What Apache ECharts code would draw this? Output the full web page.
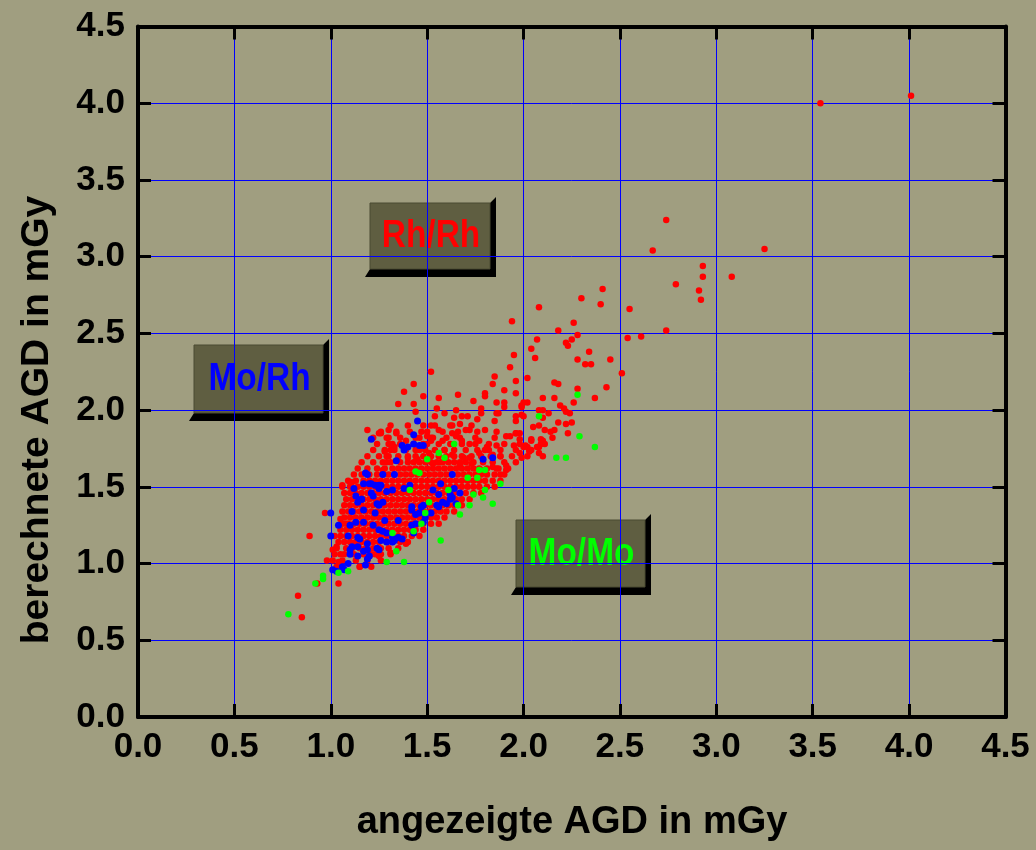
<!DOCTYPE html>
<html>
<head>
<meta charset="utf-8">
<script src="https://cdn.jsdelivr.net/npm/echarts@6/dist/echarts.min.js"></script>
<style>
html,body{margin:0;padding:0;background:#a09e80;}
#chart{width:1036px;height:850px;}
</style>
</head>
<body>
<div id="chart"></div>
<script>
const xTitle = 'angezeigte AGD in mGy';
const yTitle = 'berechnete AGD in mGy';
const tickValues = [0, 0.5, 1.0, 1.5, 2.0, 2.5, 3.0, 3.5, 4.0, 4.5];
const boxLabels = ['Mo/Rh', 'Rh/Rh', 'Mo/Mo'];

// dense red cluster, read row by row: [y, [x values]]
const redCoreRows = [
 [0.98, [1.04,1.15,1.21]],
 [1.02, [1.01,1.06,1.13,1.19,1.26]],
 [1.06, [1.02,1.07,1.12,1.17,1.21,1.26,1.31]],
 [1.10, [1.03,1.08,1.11,1.15,1.18,1.22,1.26,1.30,1.35]],
 [1.14, [1.04,1.07,1.10,1.13,1.16,1.19,1.22,1.25,1.29,1.32,1.36,1.40]],
 [1.18, [1.02,1.05,1.08,1.11,1.14,1.17,1.20,1.23,1.26,1.29,1.32,1.35,1.38,1.42,1.46]],
 [1.22, [1.05,1.08,1.11,1.14,1.17,1.20,1.23,1.26,1.29,1.32,1.35,1.38,1.41,1.44,1.48]],
 [1.26, [1.06,1.09,1.12,1.15,1.18,1.21,1.24,1.27,1.30,1.33,1.36,1.39,1.42,1.45,1.48,1.52,1.56]],
 [1.30, [1.07,1.10,1.13,1.16,1.19,1.22,1.25,1.28,1.31,1.34,1.37,1.40,1.43,1.46,1.49,1.52,1.55,1.59]],
 [1.34, [1.06,1.09,1.12,1.15,1.18,1.21,1.24,1.27,1.30,1.33,1.36,1.39,1.42,1.45,1.48,1.51,1.54,1.57,1.60,1.64]],
 [1.38, [1.07,1.10,1.13,1.16,1.19,1.22,1.25,1.28,1.31,1.34,1.37,1.40,1.43,1.46,1.49,1.52,1.55,1.58,1.61,1.64,1.68]],
 [1.42, [1.08,1.11,1.14,1.17,1.20,1.23,1.26,1.29,1.32,1.35,1.38,1.41,1.44,1.47,1.50,1.53,1.56,1.59,1.62,1.65,1.68,1.72]],
 [1.46, [1.07,1.10,1.13,1.16,1.19,1.22,1.25,1.28,1.31,1.34,1.37,1.40,1.43,1.46,1.49,1.52,1.55,1.58,1.61,1.64,1.67,1.70,1.74,1.78]],
 [1.50, [1.06,1.10,1.14,1.17,1.20,1.23,1.26,1.29,1.32,1.35,1.38,1.41,1.44,1.47,1.50,1.53,1.56,1.59,1.62,1.65,1.68,1.71,1.74,1.77,1.81,1.85]],
 [1.54, [1.09,1.13,1.17,1.20,1.23,1.26,1.29,1.32,1.35,1.38,1.41,1.44,1.47,1.50,1.53,1.56,1.59,1.62,1.65,1.68,1.71,1.74,1.77,1.80,1.84,1.88]],
 [1.58, [1.12,1.16,1.20,1.24,1.27,1.30,1.33,1.36,1.39,1.42,1.45,1.48,1.51,1.54,1.57,1.60,1.63,1.66,1.69,1.72,1.75,1.78,1.81,1.85,1.90]],
 [1.62, [1.14,1.19,1.24,1.28,1.32,1.35,1.38,1.41,1.44,1.47,1.50,1.53,1.56,1.59,1.62,1.65,1.68,1.71,1.74,1.77,1.81,1.86,1.92]],
 [1.66, [1.16,1.22,1.27,1.31,1.36,1.40,1.43,1.46,1.49,1.52,1.55,1.58,1.61,1.64,1.67,1.70,1.74,1.79,1.84,1.90,1.96]],
 [1.70, [1.19,1.25,1.30,1.35,1.40,1.44,1.48,1.52,1.56,1.60,1.64,1.68,1.73,1.78,1.83,1.88,1.94,2.02]],
 [1.74, [1.22,1.28,1.33,1.39,1.44,1.49,1.54,1.59,1.64,1.70,1.76,1.82,1.88,1.96,2.04]],
 [1.78, [1.24,1.30,1.36,1.43,1.50,1.56,1.62,1.68,1.75,1.82,1.90,1.98]],
 [1.82, [1.22,1.29,1.36,1.44,1.52,1.60,1.67,1.75,1.85]],
 [1.86, [1.26,1.34,1.41,1.50,1.58,1.66,1.76]],
 [1.90, [1.31,1.40,1.52,1.62,1.73]]
];

// scattered red points [x, y]
const redScatter = [
 [3.54,4.00],[4.01,4.05],[2.74,3.24],[2.67,3.04],[3.25,3.05],[2.93,2.94],[2.93,2.87],[3.08,2.87],[2.79,2.82],[2.91,2.78],
 [2.92,2.72],[2.41,2.79],[2.30,2.73],[2.08,2.67],[2.40,2.69],[2.55,2.66],[1.94,2.58],[2.26,2.57],[2.18,2.52],[2.74,2.52],
 [2.28,2.49],[2.54,2.47],[2.61,2.48],[2.07,2.46],[2.25,2.46],[2.22,2.44],[2.23,2.42],[2.04,2.40],[2.34,2.38],[1.95,2.36],
 [2.06,2.34],[2.28,2.33],[2.32,2.30],[2.35,2.30],[2.45,2.33],[1.93,2.28],[2.51,2.24],[2.02,2.21],[1.96,2.19],[2.16,2.18],
 [2.18,2.17],[2.43,2.15],[1.90,2.13],[2.28,2.14],[1.96,2.11],[2.10,2.08],[2.16,2.08],[2.37,2.08],[1.90,2.05],[2.00,2.05],
 [2.02,2.05],[2.26,2.05],[2.19,2.03],[2.21,2.01],[2.22,1.99],[2.24,1.98],[1.99,2.02],[2.08,2.00],[2.10,2.00],[2.13,1.98],
 [1.86,1.98],[1.96,1.93],[2.00,1.96],[2.10,1.95],[2.18,1.92],[2.22,1.91],[2.25,1.92],[2.05,1.89],[2.08,1.90],[2.11,1.87],
 [2.14,1.86],[2.16,1.87],[1.93,1.83],[1.96,1.85],[1.98,1.81],[2.04,1.81],[2.09,1.81],[2.15,1.82],[2.23,1.85],[2.00,1.76],
 [2.02,1.76],[2.09,1.78],
 [1.52,2.25],[1.85,2.22],[1.43,2.17],[1.84,2.17],[1.38,2.12],[1.66,2.10],[1.80,2.11],[1.80,2.09],[1.48,2.09],[1.56,2.08],
 [1.74,2.06],[1.86,2.05],[1.90,2.02],[1.35,2.04],[1.43,2.04],[1.44,1.99],[1.99,2.03],[1.55,2.01],[1.65,2.00],[1.78,2.01],
 [1.59,1.98],[1.71,1.96],[1.78,1.98],[1.87,1.98],[1.96,1.96],[1.99,1.97],[1.54,1.96],[1.64,1.95],[1.68,1.96],[1.85,1.93],
 [1.76,1.94],[1.54,1.90],[1.63,1.90],[1.67,1.91],[1.48,1.90],[1.30,1.87],[1.34,1.85],[1.26,1.85],[1.47,1.86],[1.56,1.87],
 [1.63,1.85],[1.70,1.87],[1.72,1.87],[1.80,1.87],[1.86,1.86],[1.96,1.85],[1.98,1.85],[1.50,1.83],[1.53,1.82],[1.65,1.83],
 [1.30,1.82],[1.39,1.80],[1.46,1.82],[1.48,1.78],[1.52,1.80],[1.58,1.80],[1.68,1.80],[1.72,1.78],[1.77,1.80],[1.81,1.76],
 [1.86,1.77],[1.91,1.83],[1.95,1.77],[2.04,1.80],[2.07,1.76],[2.10,1.80],[2.11,1.78],[2.01,1.77],[2.03,1.74],[1.32,1.78],
 [1.33,1.76],[1.31,1.74],[1.28,1.73],[1.29,1.70],[1.46,1.74],[1.51,1.72],[1.59,1.74],[1.63,1.71],[1.69,1.69],[1.72,1.69],
 [1.77,1.72],[1.80,1.74],[1.84,1.71],[1.88,1.70],[1.98,1.72],[1.99,1.69],[2.03,1.73],[2.08,1.76],[2.08,1.72],[2.10,1.70],
 [1.40,1.69],[1.34,1.67],[1.29,1.66],[1.45,1.68],[1.53,1.65],[1.57,1.66],[1.67,1.64],[1.73,1.65],[1.78,1.61],[1.84,1.63],
 [1.87,1.62],[1.91,1.61],[1.91,1.64],[1.88,1.58],[1.27,1.61],[1.19,1.87],[1.25,1.85],[1.11,1.53],
 [0.89,1.18],[0.97,1.33],[0.98,1.02],[1.04,0.87],[0.83,0.79],[0.85,0.65],[0.93,0.87],[1.06,1.51],[1.10,1.53],[1.05,1.29],
 [1.08,1.26],[1.03,1.11],[1.01,1.09],[1.05,1.06],[1.04,1.01],[1.15,0.98],[1.23,1.06],[1.25,1.05],[1.31,1.07],[1.39,1.13],
 [1.03,0.98],[1.11,1.13]
];

const bluePoints = [
 [1.45,1.93],[1.43,1.84],[1.21,1.81],[1.43,1.78],[1.46,1.77],[1.48,1.77],[1.37,1.77],[1.40,1.76],[1.38,1.74],[1.79,1.68],
 [1.84,1.69],[1.34,1.67],[1.27,1.58],[1.33,1.58],[1.63,1.58],[1.18,1.59],[1.57,1.52],[1.64,1.49],[1.62,1.45],[1.67,1.46],
 [1.53,1.48],[1.56,1.45],[1.58,1.40],[1.60,1.39],[1.62,1.42],[1.48,1.38],[1.55,1.38],[1.56,1.37],[1.42,1.37],[1.47,1.37],
 [1.41,1.51],[1.38,1.49],[1.32,1.48],[1.29,1.47],[1.26,1.51],[1.12,1.49],[1.20,1.52],[1.25,1.51],[1.16,1.42],[1.21,1.46],
 [1.14,1.40],[1.63,1.43],[1.65,1.39],[1.00,1.33],[1.11,1.34],[1.04,1.25],[1.00,1.18],[1.10,1.09],[1.10,1.06],[1.01,0.96],
 [1.03,0.95],[1.06,0.98],[1.07,0.96],[1.09,1.00],[1.14,1.05],[1.18,0.99],[1.19,1.03],[1.17,1.08],[1.19,1.09],[1.20,1.05],
 [1.14,1.17],[1.15,1.16],[1.10,1.25],[1.13,1.27],[1.17,1.27],[1.17,1.35],[1.19,1.58],[1.17,1.52],[1.21,1.52],[1.22,1.44],
 [1.24,1.39],[1.25,1.38],[1.23,1.33],[1.22,1.25],[1.25,1.22],[1.27,1.21],[1.29,1.20],[1.26,1.15],[1.24,1.10],[1.25,1.09],
 [1.29,1.14],[1.32,1.17],[1.33,1.15],[1.35,1.17],[1.37,1.16],[1.32,1.14],[1.25,1.49],[1.23,1.51],[1.27,1.40],[1.28,1.28],
 [1.35,1.28],[1.42,1.35],[1.44,1.32],[1.43,1.20],[1.42,1.25],[1.44,1.26],[1.46,1.33],[1.48,1.27],[1.49,1.30],[1.52,1.33],
 [1.09,1.18],[1.11,1.11],[1.14,1.11],[1.19,1.13],[1.13,1.44],[1.16,1.42]
];

const greenPoints = [
 [2.28,2.10],[2.08,1.96],[2.29,1.83],[2.37,1.76],[2.17,1.69],[2.22,1.69],[1.64,1.78],[1.56,1.72],[1.59,1.69],[1.50,1.68],
 [1.77,1.61],[1.80,1.61],[1.44,1.60],[1.46,1.59],[1.71,1.56],[1.76,1.56],[1.88,1.52],[1.80,1.48],[1.61,1.48],[1.74,1.45],
 [1.79,1.43],[1.84,1.39],[1.72,1.38],[1.51,1.40],[1.66,1.38],[1.41,1.48],[0.78,0.67],[0.92,0.87],[0.96,0.90],[0.96,0.92],
 [1.09,0.95],[1.04,0.94],[1.29,1.01],[1.38,1.01],[1.34,1.08],[1.32,1.20],[1.57,1.15],[1.67,1.32],[1.49,1.33],[1.43,1.21],
 [1.47,1.26]
];

const redPoints = redCoreRows.flatMap(r => r[1].map(x => [x, r[0]])).concat(redScatter);

const FONT = '"Liberation Sans", Arial, sans-serif';
const chart = echarts.init(document.getElementById('chart'), null, {renderer: 'canvas'});

const axisBase = {
  type: 'value', min: 0, max: 4.5, interval: 0.5,
  axisLine: {show: true, onZero: false, lineStyle: {color: '#000', width: 4}},
  axisTick: {show: true, inside: true, length: 13, lineStyle: {color: '#000', width: 3}}
};

function label(el) {
  // 3D-looking label box: shadow polygon + face + text
  const [x0, y0, x1, y1, txt, color] = el;
  return {
    type: 'group', z: 100, children: [
      {type: 'polygon', shape: {points: [[x1, y0], [x1 + 6, y0 - 6], [x1 + 6, y1 + 8], [x0 - 5, y1 + 8], [x0, y1]]}, style: {fill: '#000'}},
      {type: 'rect', shape: {x: x0, y: y0, width: x1 - x0, height: y1 - y0}, style: {fill: '#5f5e41', stroke: '#4a4a32', lineWidth: 1}},
      {type: 'text', x: (x0 + x1) / 2 + 1, y: (y0 + y1) / 2 + 1, scaleX: 0.88,
        style: {text: txt, fill: color, font: 'bold 38px ' + FONT, align: 'center', verticalAlign: 'middle'}}
    ]
  };
}

chart.setOption({
  backgroundColor: '#a09e80',
  animation: false,
  grid: {left: 138, right: 30.5, top: 26.6, bottom: 133, containLabel: false},
  xAxis: [
    Object.assign({}, axisBase, {
      position: 'bottom',
      axisLabel: {show: true, margin: 13, color: '#000', fontSize: 35, fontWeight: 'bold', fontFamily: FONT,
        formatter: v => tickValues.includes(+v.toFixed(1)) ? v.toFixed(1) : ''},
      splitLine: {show: true, lineStyle: {color: '#0000ff', width: 1}}
    }),
    Object.assign({}, axisBase, {position: 'top', axisLabel: {show: false}, splitLine: {show: false}})
  ],
  yAxis: [
    Object.assign({}, axisBase, {
      position: 'left',
      axisLabel: {show: true, margin: 13, color: '#000', fontSize: 35, fontWeight: 'bold', fontFamily: FONT,
        formatter: v => v.toFixed(1)},
      splitLine: {show: true, lineStyle: {color: '#0000ff', width: 1}}
    }),
    Object.assign({}, axisBase, {position: 'right', axisLabel: {show: false}, splitLine: {show: false}})
  ],
  series: [
    {type: 'scatter', data: redPoints, symbol: 'circle', symbolSize: 6.5, itemStyle: {color: '#ff0000', opacity: 1}, z: 3},
    {type: 'scatter', data: bluePoints, symbol: 'circle', symbolSize: 7, itemStyle: {color: '#0000ff', opacity: 1}, z: 4},
    {type: 'scatter', data: greenPoints, symbol: 'circle', symbolSize: 6.5, itemStyle: {color: '#00ff00', opacity: 1}, z: 5}
  ],
  graphic: [
    label([194, 345, 323, 413, boxLabels[0], '#0000ff']),
    label([370, 203, 490, 269, boxLabels[1], '#ff0000']),
    label([516, 520, 645, 587, boxLabels[2], '#00ff00']),
    {type: 'text', x: 572, y: 823, z: 100,
      style: {text: xTitle, fill: '#000', font: 'bold 38px ' + FONT, align: 'center', verticalAlign: 'middle'}},
    {type: 'text', x: 37, y: 420, rotation: Math.PI / 2, z: 100,
      style: {text: yTitle, fill: '#000', font: 'bold 39px ' + FONT, align: 'center', verticalAlign: 'middle'}}
  ]
});
</script>
</body>
</html>
